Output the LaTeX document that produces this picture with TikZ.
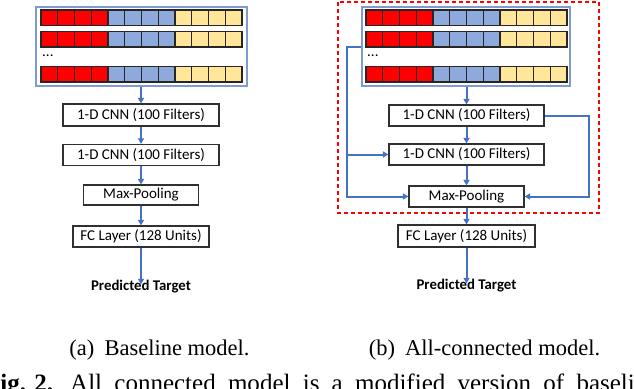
\documentclass[tikz,border=0pt]{standalone}
\usepackage{fontspec}
\setmainfont{Liberation Serif}
\newfontfamily\boxfont{Carlito}
\usetikzlibrary{arrows.meta}
\definecolor{arrowblue}{HTML}{4472C4}
\definecolor{inblue}{HTML}{7F9BD0}
\definecolor{cellred}{HTML}{FF0000}
\definecolor{cellblue}{HTML}{8EA9DB}
\definecolor{cellyel}{HTML}{FFE699}
\definecolor{boxline}{HTML}{303030}
\begin{document}
\begin{tikzpicture}[x=1pt,y=-1pt,
  layer/.style={draw=boxline, line width=1.2pt, fill=white, inner sep=0pt,
    font=\boxfont\fontsize{15}{17}\selectfont},
  inbox/.style={draw=inblue, line width=1.5pt, inner sep=0pt, minimum height=79pt},
  cell/.style={draw=black!85, line width=1.4pt},
  conn/.style={draw=arrowblue, line width=2pt, -{Triangle[length=5.5pt,width=6pt]}},
  target/.style={font=\boxfont\bfseries\fontsize{14.8}{17}\selectfont, inner sep=0pt},
  dots/.style={font=\boxfont\fontsize{15}{17}\selectfont, inner sep=0pt},
  subcap/.style={font=\fontsize{22.5}{26}\selectfont, inner sep=0pt},
  redbox/.style={draw=red, dashed, dash pattern=on 4pt off 3pt, line width=1.2pt}]
\useasboundingbox (0,0) rectangle (634,388);
\clip (0,0) rectangle (634,388);

% ---------- left: baseline ----------
\node[inbox, minimum width=211pt] (inL) at (141.5,46.5) {};
\foreach \y in {10,31.5,66.5}{
  \foreach \i/\c in {0/cellred,1/cellred,2/cellred,3/cellred,4/cellblue,5/cellblue,6/cellblue,7/cellblue,8/cellyel,9/cellyel,10/cellyel,11/cellyel}{
    \draw[cell, fill=\c] ({41+\i*16.75},\y) rectangle ({41+(\i+1)*16.75},\y+15.5);
  }
}
\node[dots, anchor=west] (dL) at (42,56) {...};

\node[layer, minimum width=156pt, minimum height=22pt] (c1L) at (141,115) {1-D CNN (100 Filters)};
\node[layer, minimum width=156pt, minimum height=21pt] (c2L) at (141,155) {1-D CNN (100 Filters)};
\node[layer, minimum width=115pt, minimum height=20pt] (mpL) at (141,195) {Max-Pooling};
\node[layer, minimum width=136pt, minimum height=21pt] (fcL) at (141,236.5) {FC Layer (128 Units)};
\node[target] (ptL) at (141,287) {Predicted Target};

\draw[conn] (inL.south -| c1L.north) -- (c1L.north);
\draw[conn] (c1L) -- (c2L);
\draw[conn] (c2L) -- (mpL);
\draw[conn] (mpL) -- (fcL);
\draw[conn] (fcL.south) -- ([yshift=-4pt]ptL.north);

% ---------- right: all-connected ----------
\draw[redbox] (338,2) rectangle (599,213);
\node[inbox, minimum width=208pt] (inR) at (466,46.5) {};
\foreach \y in {10,31.5,66.5}{
  \foreach \i/\c in {0/cellred,1/cellred,2/cellred,3/cellred,4/cellblue,5/cellblue,6/cellblue,7/cellblue,8/cellyel,9/cellyel,10/cellyel,11/cellyel}{
    \draw[cell, fill=\c] ({366+\i*16.75},\y) rectangle ({366+(\i+1)*16.75},\y+15.5);
  }
}
\node[dots, anchor=west] (dR) at (367,56) {...};

\node[layer, minimum width=155pt, minimum height=21pt] (c1R) at (466.5,115.5) {1-D CNN (100 Filters)};
\node[layer, minimum width=155pt, minimum height=21pt] (c2R) at (466.5,154.5) {1-D CNN (100 Filters)};
\node[layer, minimum width=115pt, minimum height=21pt] (mpR) at (466.5,196.5) {Max-Pooling};
\node[layer, minimum width=137pt, minimum height=22pt] (fcR) at (466.5,236) {FC Layer (128 Units)};
\node[target] (ptR) at (466.5,286) {Predicted Target};

\draw[conn] (inR.south -| c1R.north) -- (c1R.north);
\draw[conn] (c1R) -- (c2R);
\draw[conn] (c2R) -- (mpR);
\draw[conn] (mpR) -- (fcR);
\draw[conn] (fcR.south) -- ([yshift=-4pt]ptR.north);

\coordinate (lx) at (347,0);
\coordinate (rx) at (589,0);
\draw[conn] (inR.west) -- (lx |- inR.west) |- (mpR.west);
\draw[conn] (lx |- c2R.west) -- (c2R.west);
\draw[conn] (c1R.east) -- (rx |- c1R.east) |- (mpR.east);

% ---------- captions ----------
\node[subcap, anchor=base] (capA) at (159.5,355) {(a)\hspace{0.45em}Baseline model.};
\node[subcap, anchor=base] (capB) at (484.5,355) {(b)\hspace{0.45em}All-connected model.};
\node[font=\fontsize{25}{29}\selectfont, inner sep=0pt, anchor=base west] (fig) at (-15,391.5)
  {\textbf{Fig. 2.}\hspace{17pt}{\spaceskip=12.25pt All connected model is a modified version of baseline}};
\end{tikzpicture}
\end{document}
